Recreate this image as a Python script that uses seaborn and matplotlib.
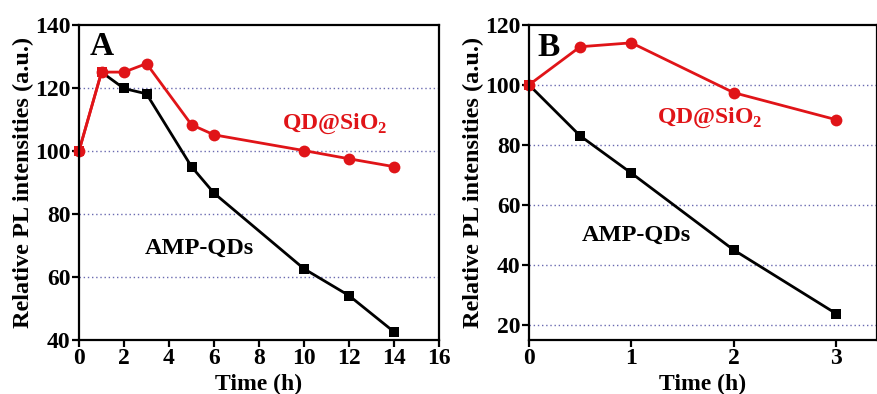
import matplotlib
matplotlib.use("Agg")
import matplotlib.pyplot as plt
import seaborn as sns

# Panel A data
a_time_red = [0, 1, 2, 3, 5, 6, 10, 12, 14]
a_red = [100, 125, 125, 127.7, 108.3, 105.1, 100.1, 97.5, 95.0]
a_time_black = [1, 2, 3, 5, 6, 10, 12, 14]
a_black = [125, 119.8, 118.1, 95.0, 86.6, 62.6, 54.1, 42.6]
a_time_shared = [0, 1]
a_shared = [100, 125]

# Panel B data
b_time = [0, 0.5, 1, 2, 3]
b_red = [100, 112.7, 114.0, 97.4, 88.4]
b_black = [100, 83.0, 70.6, 45.0, 23.8]
b_time_shared = [0]
b_shared = [100]

sns.set_style("ticks")
plt.rcParams['font.family'] = ['Liberation Serif', 'DejaVu Serif']
plt.rcParams['font.weight'] = 'bold'
plt.rcParams['mathtext.fontset'] = 'custom'
plt.rcParams['mathtext.rm'] = 'Liberation Serif:bold'
plt.rcParams['mathtext.bf'] = 'Liberation Serif:bold'
plt.rcParams['text.color'] = 'black'
plt.rcParams['axes.labelcolor'] = 'black'
plt.rcParams['xtick.color'] = 'black'
plt.rcParams['ytick.color'] = 'black'

RED = '#e01418'
fig = plt.figure(figsize=(8.78, 3.94), dpi=100)
axA = fig.add_axes([0.090, 0.137, 0.410, 0.800])
axB = fig.add_axes([0.6025, 0.137, 0.3964, 0.800])

def style(ax, xlim, ylim, xticks, yticks, grid):
    ax.set_xlim(*xlim)
    ax.set_ylim(*ylim)
    ax.set_xticks(xticks)
    ax.set_yticks(yticks)
    for g in grid:
        ax.axhline(g, color='#6a6ab0', linestyle=(0, (1, 2)), linewidth=1.0, zorder=0)
    for s in ax.spines.values():
        s.set_linewidth(1.6)
        s.set_color('black')
        s.set_visible(True)
    ax.tick_params(direction='out', length=5, width=1.6, labelsize=17, pad=1,
                   colors='black')
    for lab in ax.get_xticklabels() + ax.get_yticklabels():
        lab.set_fontweight('bold')
    ax.set_xlabel('Time (h)', fontsize=17, fontweight='bold', labelpad=3, color='black')
    ax.set_ylabel('Relative PL intensities (a.u.)', fontsize=17.5, fontweight='bold',
                  labelpad=1, color='black')

kw = dict(linewidth=2, markeredgewidth=0, clip_on=False)
sns.lineplot(x=a_time_black, y=a_black, color='black', marker='s', markersize=7.5, ax=axA, **kw)
sns.lineplot(x=a_time_red, y=a_red, color=RED, marker='o', markersize=8.5, ax=axA, **kw)
sns.lineplot(x=a_time_shared, y=a_shared, color=RED, marker='s', markersize=7.5, ax=axA, **kw)
style(axA, (0, 16), (40, 140), range(0, 17, 2), range(40, 141, 20), [60, 80, 100, 120])
axA.text(0.45, 133, 'A', fontsize=24, fontweight='bold', va='center', color='black')
axA.text(9.0, 108.5, r'QD@SiO$_2$', fontsize=17, fontweight='bold', color=RED, va='center')
axA.text(2.9, 69.2, 'AMP-QDs', fontsize=17.5, fontweight='bold', color='black', va='center')

sns.lineplot(x=b_time, y=b_black, color='black', marker='s', markersize=7.5, ax=axB, **kw)
sns.lineplot(x=b_time, y=b_red, color=RED, marker='o', markersize=8.5, ax=axB, **kw)
sns.lineplot(x=b_time_shared, y=b_shared, color=RED, marker='s', markersize=7.5, ax=axB, **kw)
style(axB, (0, 3.4), (15, 120), [0, 1, 2, 3], range(20, 121, 20), [20, 40, 60, 80, 100])
axB.text(0.08, 112.3, 'B', fontsize=24, fontweight='bold', va='center', color='black')
axB.text(1.25, 89, r'QD@SiO$_2$', fontsize=17, fontweight='bold', color=RED, va='center')
axB.text(0.52, 49.8, 'AMP-QDs', fontsize=17.5, fontweight='bold', color='black', va='center')

fig.savefig('out.png', dpi=100)
